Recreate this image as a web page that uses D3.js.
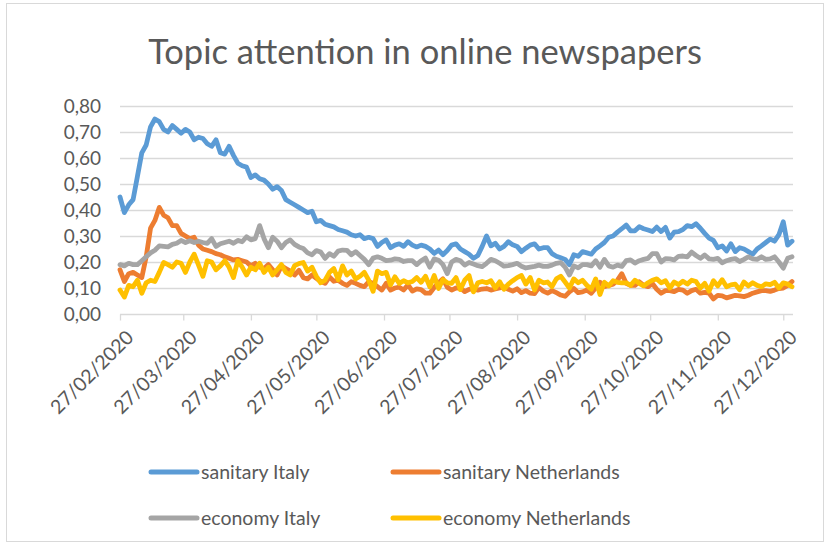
<!DOCTYPE html>
<html>
<head>
<meta charset="utf-8">
<script src="https://cdn.jsdelivr.net/npm/d3@7/dist/d3.min.js"></script>
<style>
  html, body { margin: 0; padding: 0; background: #fff; }
  svg { display: block; }
  text { font-family: Lato, "Open Sans", sans-serif; fill: #595959; }
</style>
</head>
<body>
<svg id="chart" width="829" height="546"></svg>
<script>
// Daily topic share, sampled every second day from 27/02/2020 to 31/12/2020
const firstDay = Date.UTC(2020, 1, 27);
const lastDay = Date.UTC(2020, 11, 31);
const stepDays = 2;

const sanitaryItaly = [
  0.45, 0.39, 0.42, 0.44, 0.53, 0.62, 0.65, 0.72, 0.75, 0.74,
  0.71, 0.70, 0.725, 0.71, 0.695, 0.71, 0.70, 0.67, 0.68, 0.675,
  0.655, 0.645, 0.67, 0.62, 0.615, 0.645, 0.61, 0.58, 0.57, 0.565,
  0.525, 0.535, 0.52, 0.515, 0.50, 0.48, 0.49, 0.475, 0.44, 0.43,
  0.42, 0.41, 0.40, 0.39, 0.395, 0.355, 0.36, 0.345, 0.34, 0.335,
  0.325, 0.32, 0.315, 0.305, 0.30, 0.305, 0.29, 0.295, 0.29, 0.26,
  0.275, 0.285, 0.255, 0.265, 0.27, 0.26, 0.278, 0.265, 0.258, 0.265,
  0.26, 0.25, 0.233, 0.246, 0.228, 0.244, 0.265, 0.27, 0.25, 0.24,
  0.23, 0.214, 0.225, 0.26, 0.30, 0.262, 0.272, 0.25, 0.26, 0.278,
  0.266, 0.26, 0.24, 0.253, 0.265, 0.27, 0.25, 0.255, 0.255, 0.232,
  0.222, 0.216, 0.21, 0.19, 0.228, 0.222, 0.24, 0.235, 0.23, 0.25,
  0.262, 0.275, 0.295, 0.30, 0.315, 0.328, 0.342, 0.32, 0.32, 0.336,
  0.328, 0.323, 0.317, 0.334, 0.317, 0.333, 0.292, 0.315, 0.317, 0.325,
  0.34, 0.336, 0.347, 0.33, 0.31, 0.292, 0.283, 0.255, 0.262, 0.242,
  0.27, 0.24, 0.255, 0.25, 0.24, 0.23, 0.25, 0.262, 0.275, 0.288,
  0.28, 0.305, 0.355, 0.265, 0.28
];

const sanitaryNetherlands = [
  0.17, 0.125, 0.155, 0.16, 0.15, 0.14, 0.22, 0.33, 0.36, 0.41,
  0.38, 0.37, 0.34, 0.34, 0.31, 0.30, 0.29, 0.295, 0.265, 0.25,
  0.245, 0.24, 0.232, 0.228, 0.22, 0.214, 0.208, 0.21, 0.205, 0.20,
  0.185, 0.195, 0.18, 0.175, 0.19, 0.17, 0.15, 0.185, 0.175, 0.165,
  0.15, 0.168, 0.14, 0.135, 0.15, 0.137, 0.125, 0.118, 0.143, 0.126,
  0.13, 0.118, 0.11, 0.124, 0.118, 0.11, 0.105, 0.124, 0.118, 0.105,
  0.092, 0.118, 0.092, 0.10, 0.103, 0.092, 0.112, 0.088, 0.097, 0.094,
  0.08, 0.08, 0.102, 0.12, 0.135, 0.103, 0.092, 0.10, 0.10, 0.086,
  0.095, 0.097, 0.092, 0.096, 0.098, 0.092, 0.096, 0.10, 0.104, 0.095,
  0.088, 0.097, 0.082, 0.09, 0.08, 0.078, 0.102, 0.088, 0.08, 0.09,
  0.082, 0.073, 0.068, 0.085, 0.098, 0.082, 0.085, 0.092, 0.08, 0.10,
  0.122, 0.105, 0.11, 0.115, 0.13, 0.155, 0.118, 0.11, 0.11, 0.124,
  0.11, 0.105, 0.117, 0.095, 0.08, 0.09, 0.09, 0.086, 0.095, 0.092,
  0.08, 0.09, 0.095, 0.08, 0.083, 0.08, 0.058, 0.072, 0.07, 0.062,
  0.067, 0.072, 0.07, 0.067, 0.072, 0.08, 0.085, 0.09, 0.09, 0.087,
  0.092, 0.098, 0.10, 0.11, 0.125
];

const economyItaly = [
  0.19, 0.185, 0.195, 0.19, 0.19, 0.205, 0.22, 0.235, 0.245, 0.262,
  0.26, 0.258, 0.268, 0.272, 0.283, 0.275, 0.282, 0.275, 0.28, 0.275,
  0.272, 0.29, 0.26, 0.27, 0.275, 0.28, 0.272, 0.283, 0.278, 0.297,
  0.285, 0.29, 0.34, 0.29, 0.255, 0.295, 0.28, 0.255, 0.275, 0.285,
  0.268, 0.258, 0.252, 0.235, 0.228, 0.244, 0.238, 0.214, 0.232, 0.222,
  0.242, 0.246, 0.245, 0.228, 0.24, 0.225, 0.21, 0.19, 0.215, 0.22,
  0.214, 0.205, 0.207, 0.212, 0.21, 0.202, 0.205, 0.205, 0.19, 0.205,
  0.215, 0.18, 0.212, 0.207, 0.19, 0.155, 0.20, 0.21, 0.205, 0.188,
  0.198, 0.192, 0.186, 0.182, 0.195, 0.21, 0.205, 0.195, 0.184, 0.186,
  0.19, 0.195, 0.184, 0.177, 0.18, 0.183, 0.188, 0.183, 0.183, 0.188,
  0.195, 0.198, 0.18, 0.15, 0.185, 0.178, 0.19, 0.19, 0.185, 0.205,
  0.18, 0.21, 0.185, 0.18, 0.188, 0.183, 0.205, 0.208, 0.196, 0.205,
  0.21, 0.214, 0.232, 0.232, 0.20, 0.213, 0.212, 0.208, 0.222, 0.223,
  0.22, 0.238, 0.225, 0.214, 0.227, 0.212, 0.21, 0.214, 0.197, 0.205,
  0.21, 0.213, 0.202, 0.21, 0.22, 0.212, 0.21, 0.22, 0.21, 0.212,
  0.22, 0.20, 0.176, 0.214, 0.22
];

const economyNetherlands = [
  0.092, 0.065, 0.11, 0.105, 0.13, 0.08, 0.12, 0.13, 0.125, 0.16,
  0.198, 0.19, 0.18, 0.20, 0.195, 0.16, 0.20, 0.23, 0.188, 0.145,
  0.205, 0.20, 0.17, 0.185, 0.205, 0.18, 0.14, 0.205, 0.18, 0.15,
  0.18, 0.17, 0.195, 0.16, 0.18, 0.15, 0.17, 0.19, 0.16, 0.15,
  0.186, 0.194, 0.198, 0.165, 0.18, 0.145, 0.12, 0.13, 0.16, 0.175,
  0.132, 0.185, 0.15, 0.165, 0.135, 0.145, 0.16, 0.13, 0.087, 0.165,
  0.155, 0.16, 0.112, 0.143, 0.118, 0.128, 0.12, 0.125, 0.14, 0.122,
  0.145, 0.105, 0.148, 0.098, 0.132, 0.12, 0.118, 0.14, 0.094, 0.13,
  0.148, 0.085, 0.12, 0.125, 0.12, 0.128, 0.10, 0.124, 0.095, 0.115,
  0.128, 0.14, 0.148, 0.115, 0.14, 0.092, 0.13, 0.12, 0.123, 0.105,
  0.135, 0.145, 0.123, 0.10, 0.135, 0.12, 0.13, 0.11, 0.095, 0.135,
  0.075, 0.122, 0.108, 0.128, 0.122, 0.12, 0.12, 0.11, 0.13, 0.118,
  0.108, 0.12, 0.13, 0.135, 0.12, 0.128, 0.10, 0.123, 0.113, 0.126,
  0.115, 0.13, 0.125, 0.10, 0.118, 0.088, 0.128, 0.108, 0.132, 0.105,
  0.112, 0.115, 0.093, 0.123, 0.108, 0.12, 0.11, 0.105, 0.116, 0.113,
  0.122, 0.10, 0.12, 0.115, 0.105
];

const seriesNames = ["sanitary Italy", "sanitary Netherlands", "economy Italy", "economy Netherlands"];
const seriesColors = ["#5B9BD5", "#ED7D31", "#A5A5A5", "#FFC000"];

const xTickLabels = ["27/02/2020", "27/03/2020", "27/04/2020", "27/05/2020", "27/06/2020",
  "27/07/2020", "27/08/2020", "27/09/2020", "27/10/2020", "27/11/2020", "27/12/2020"];
const yTickValues = [0, 0.1, 0.2, 0.3, 0.4, 0.5, 0.6, 0.7, 0.8];
const yTickLabels = ["0,00", "0,10", "0,20", "0,30", "0,40", "0,50", "0,60", "0,70", "0,80"];

const titleText = "Topic attention in online newspapers";

// ---------------------------------------------------------------------------
const svg = d3.select("#chart");
const plot = { left: 120, right: 792, top: 106, bottom: 314 };
const fontStack = 'Lato, "Open Sans", sans-serif';

// Outer chart frame
svg.append("rect")
  .attr("x", 6.5).attr("y", 3.5)
  .attr("width", 817).attr("height", 538)
  .attr("fill", "#fff").attr("stroke", "#d9d9d9").attr("stroke-width", 1);

svg.append("text")
  .attr("x", 425).attr("y", 64)
  .attr("text-anchor", "middle")
  .attr("font-size", 34.5)
  .text(titleText);

const x = d3.scaleUtc()
  .domain([new Date(firstDay), new Date(lastDay)])
  .range([plot.left, plot.right]);
const y = d3.scaleLinear()
  .domain([0, 0.8])
  .range([plot.bottom, plot.top]);

const dates = sanitaryItaly.map((_, i) => new Date(firstDay + i * stepDays * 86400000));
const tickDates = xTickLabels.map(s => {
  const [dd, mm, yy] = s.split("/").map(Number);
  return new Date(Date.UTC(yy, mm - 1, dd));
});

// Horizontal gridlines
svg.append("g")
  .selectAll("line")
  .data(yTickValues.slice(1))
  .join("line")
  .attr("x1", plot.left).attr("x2", plot.right + 1)
  .attr("y1", d => Math.round(y(d)) + 0.5).attr("y2", d => Math.round(y(d)) + 0.5)
  .attr("stroke", "#d9d9d9").attr("stroke-width", 1.3);

// Y axis labels
const yAxis = d3.axisLeft(y)
  .tickValues(yTickValues)
  .tickFormat((d, i) => yTickLabels[i])
  .tickSize(0)
  .tickPadding(19);
const gy = svg.append("g").attr("transform", `translate(${plot.left},0)`).call(yAxis);
gy.select(".domain").remove();
gy.selectAll("text").attr("font-size", 19).attr("fill", "#595959")
  .style("font-family", fontStack);

// X axis
const xAxis = d3.axisBottom(x)
  .tickValues(tickDates)
  .tickFormat((d, i) => xTickLabels[i])
  .tickSize(6)
  .tickSizeOuter(0);
const gx = svg.append("g").attr("transform", `translate(0,${Math.round(y(0)) + 0.5})`).call(xAxis);
gx.select(".domain").attr("stroke", "#d9d9d9").attr("stroke-width", 1.3)
  .attr("d", `M${plot.left},0H${plot.right + 1}`);
gx.selectAll(".tick line").attr("stroke", "#d9d9d9").attr("stroke-width", 1.3);
gx.selectAll("text")
  .attr("font-size", 19.5)
  .attr("fill", "#595959")
  .style("font-family", fontStack)
  .attr("text-anchor", "end")
  .attr("dy", 0)
  .attr("transform", "translate(8,18) rotate(-45)");

// Series lines
const allSeries = [sanitaryItaly, sanitaryNetherlands, economyItaly, economyNetherlands];
const line = d3.line()
  .x((d, i) => x(dates[i]))
  .y(d => y(d));

svg.append("g")
  .selectAll("path")
  .data(allSeries)
  .join("path")
  .attr("d", d => line(d))
  .attr("fill", "none")
  .attr("stroke", (d, i) => seriesColors[i])
  .attr("stroke-width", 4.8)
  .attr("stroke-linejoin", "round")
  .attr("stroke-linecap", "round");

// Legend: two rows, two columns
const legendPos = [
  { x: 151, y: 472 }, { x: 393, y: 472 },
  { x: 151, y: 518 }, { x: 393, y: 518 }
];
const legend = svg.append("g")
  .selectAll("g")
  .data(seriesNames)
  .join("g")
  .attr("transform", (d, i) => `translate(${legendPos[i].x},${legendPos[i].y})`);
legend.append("line")
  .attr("x1", 0).attr("x2", 46).attr("y1", 0).attr("y2", 0)
  .attr("stroke", (d, i) => seriesColors[i])
  .attr("stroke-width", 5)
  .attr("stroke-linecap", "round");
legend.append("text")
  .attr("x", 50).attr("y", 0).attr("dy", "0.35em")
  .attr("font-size", 19.5)
  .text(d => d);
</script>
</body>
</html>
